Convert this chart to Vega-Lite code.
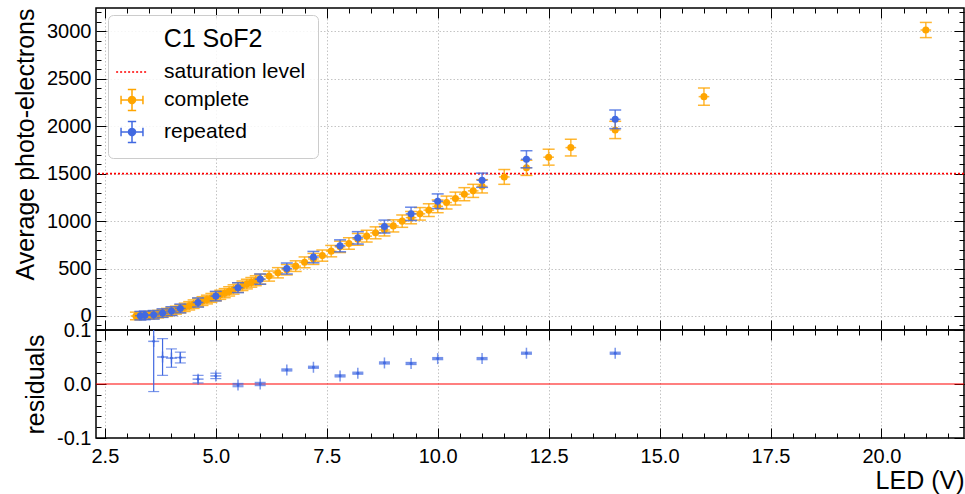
{
  "$schema": "https://vega.github.io/schema/vega-lite/v6.json",
  "background": "white",
  "padding": {"left": 12, "top": 6, "right": 2, "bottom": 0},
  "spacing": 0,
  "bounds": "flush",
  "config": {
    "view": {"stroke": "black", "strokeWidth": 1.5},
    "axis": {
      "labelFont": "Liberation Sans", "titleFont": "Liberation Sans",
      "labelFontSize": 20, "titleFontSize": 25, "titleFontWeight": "normal",
      "labelColor": "black", "titleColor": "black", "tickColor": "black",
      "tickWidth": 1, "domain": false, "grid": false,
      "gridColor": "#c4c4c4", "gridDash": [1.5, 2], "gridWidth": 1
    }
  },
  "datasets": {
    "main": [
      {"s": "complete", "led": 3.2, "pe": 0, "err": 40, "xerr": 0.12},
      {"s": "complete", "led": 3.3, "pe": 2, "err": 40, "xerr": 0.12},
      {"s": "complete", "led": 3.4, "pe": 5, "err": 40, "xerr": 0.12},
      {"s": "complete", "led": 3.5, "pe": 8, "err": 40, "xerr": 0.12},
      {"s": "complete", "led": 3.6, "pe": 11, "err": 40, "xerr": 0.12},
      {"s": "complete", "led": 3.7, "pe": 19, "err": 40, "xerr": 0.12},
      {"s": "complete", "led": 3.8, "pe": 28, "err": 40, "xerr": 0.12},
      {"s": "complete", "led": 3.9, "pe": 38, "err": 42, "xerr": 0.12},
      {"s": "complete", "led": 4.0, "pe": 48, "err": 42, "xerr": 0.12},
      {"s": "complete", "led": 4.1, "pe": 61, "err": 42, "xerr": 0.12},
      {"s": "complete", "led": 4.2, "pe": 75, "err": 43, "xerr": 0.12},
      {"s": "complete", "led": 4.3, "pe": 91, "err": 44, "xerr": 0.12},
      {"s": "complete", "led": 4.4, "pe": 107, "err": 44, "xerr": 0.12},
      {"s": "complete", "led": 4.5, "pe": 124, "err": 45, "xerr": 0.12},
      {"s": "complete", "led": 4.6, "pe": 141, "err": 45, "xerr": 0.12},
      {"s": "complete", "led": 4.7, "pe": 157, "err": 46, "xerr": 0.12},
      {"s": "complete", "led": 4.8, "pe": 173, "err": 46, "xerr": 0.12},
      {"s": "complete", "led": 4.9, "pe": 190, "err": 47, "xerr": 0.12},
      {"s": "complete", "led": 5.0, "pe": 206, "err": 47, "xerr": 0.12},
      {"s": "complete", "led": 5.1, "pe": 223, "err": 48, "xerr": 0.12},
      {"s": "complete", "led": 5.2, "pe": 240, "err": 48, "xerr": 0.12},
      {"s": "complete", "led": 5.3, "pe": 259, "err": 49, "xerr": 0.12},
      {"s": "complete", "led": 5.4, "pe": 279, "err": 49, "xerr": 0.12},
      {"s": "complete", "led": 5.5, "pe": 299, "err": 50, "xerr": 0.12},
      {"s": "complete", "led": 5.6, "pe": 318, "err": 50, "xerr": 0.12},
      {"s": "complete", "led": 5.7, "pe": 336, "err": 51, "xerr": 0.12},
      {"s": "complete", "led": 5.8, "pe": 354, "err": 51, "xerr": 0.12},
      {"s": "complete", "led": 5.9, "pe": 371, "err": 52, "xerr": 0.12},
      {"s": "complete", "led": 6.0, "pe": 388, "err": 52, "xerr": 0.12},
      {"s": "complete", "led": 6.2, "pe": 420, "err": 53, "xerr": 0.12},
      {"s": "complete", "led": 6.4, "pe": 455, "err": 54, "xerr": 0.12},
      {"s": "complete", "led": 6.6, "pe": 487, "err": 55, "xerr": 0.12},
      {"s": "complete", "led": 6.8, "pe": 525, "err": 56, "xerr": 0.12},
      {"s": "complete", "led": 7.0, "pe": 565, "err": 57, "xerr": 0.12},
      {"s": "complete", "led": 7.2, "pe": 601, "err": 58, "xerr": 0.12},
      {"s": "complete", "led": 7.4, "pe": 636, "err": 59, "xerr": 0.12},
      {"s": "complete", "led": 7.6, "pe": 683, "err": 60, "xerr": 0.12},
      {"s": "complete", "led": 7.8, "pe": 728, "err": 60, "xerr": 0.12},
      {"s": "complete", "led": 8.0, "pe": 763, "err": 61, "xerr": 0.12},
      {"s": "complete", "led": 8.2, "pe": 807, "err": 62, "xerr": 0.12},
      {"s": "complete", "led": 8.4, "pe": 841, "err": 62, "xerr": 0.12},
      {"s": "complete", "led": 8.6, "pe": 876, "err": 63, "xerr": 0.12},
      {"s": "complete", "led": 8.8, "pe": 906, "err": 63, "xerr": 0.12},
      {"s": "complete", "led": 9.0, "pe": 949, "err": 64, "xerr": 0.12},
      {"s": "complete", "led": 9.2, "pe": 999, "err": 65, "xerr": 0.12},
      {"s": "complete", "led": 9.4, "pe": 1036, "err": 65, "xerr": 0.12},
      {"s": "complete", "led": 9.6, "pe": 1076, "err": 66, "xerr": 0.12},
      {"s": "complete", "led": 9.8, "pe": 1115, "err": 67, "xerr": 0.12},
      {"s": "complete", "led": 10.0, "pe": 1155, "err": 67, "xerr": 0.12},
      {"s": "complete", "led": 10.2, "pe": 1195, "err": 68, "xerr": 0.12},
      {"s": "complete", "led": 10.4, "pe": 1237, "err": 68, "xerr": 0.12},
      {"s": "complete", "led": 10.6, "pe": 1283, "err": 69, "xerr": 0.12},
      {"s": "complete", "led": 10.8, "pe": 1318, "err": 69, "xerr": 0.12},
      {"s": "complete", "led": 11.0, "pe": 1366, "err": 70, "xerr": 0.12},
      {"s": "complete", "led": 11.5, "pe": 1465, "err": 78, "xerr": 0.12},
      {"s": "complete", "led": 12.0, "pe": 1561, "err": 80, "xerr": 0.12},
      {"s": "complete", "led": 12.5, "pe": 1673, "err": 84, "xerr": 0.12},
      {"s": "complete", "led": 13.0, "pe": 1774, "err": 88, "xerr": 0.12},
      {"s": "complete", "led": 14.0, "pe": 1960, "err": 91, "xerr": 0.12},
      {"s": "complete", "led": 16.0, "pe": 2311, "err": 91, "xerr": 0.12},
      {"s": "complete", "led": 21.0, "pe": 3013, "err": 80, "xerr": 0.12},
      {"s": "repeated", "led": 3.3, "pe": 3, "err": 45, "xerr": 0.12},
      {"s": "repeated", "led": 3.4, "pe": 6, "err": 45, "xerr": 0.12},
      {"s": "repeated", "led": 3.6, "pe": 12, "err": 45, "xerr": 0.12},
      {"s": "repeated", "led": 3.8, "pe": 30, "err": 45, "xerr": 0.12},
      {"s": "repeated", "led": 4.0, "pe": 51, "err": 46, "xerr": 0.12},
      {"s": "repeated", "led": 4.2, "pe": 79, "err": 46, "xerr": 0.12},
      {"s": "repeated", "led": 4.6, "pe": 142, "err": 48, "xerr": 0.12},
      {"s": "repeated", "led": 5.0, "pe": 209, "err": 50, "xerr": 0.12},
      {"s": "repeated", "led": 5.5, "pe": 298, "err": 52, "xerr": 0.12},
      {"s": "repeated", "led": 6.0, "pe": 388, "err": 54, "xerr": 0.12},
      {"s": "repeated", "led": 6.6, "pe": 500, "err": 58, "xerr": 0.12},
      {"s": "repeated", "led": 7.2, "pe": 620, "err": 60, "xerr": 0.12},
      {"s": "repeated", "led": 7.8, "pe": 739, "err": 63, "xerr": 0.12},
      {"s": "repeated", "led": 8.2, "pe": 823, "err": 65, "xerr": 0.12},
      {"s": "repeated", "led": 8.8, "pe": 942, "err": 68, "xerr": 0.12},
      {"s": "repeated", "led": 9.4, "pe": 1076, "err": 70, "xerr": 0.12},
      {"s": "repeated", "led": 10.0, "pe": 1209, "err": 77, "xerr": 0.12},
      {"s": "repeated", "led": 11.0, "pe": 1430, "err": 75, "xerr": 0.12},
      {"s": "repeated", "led": 12.0, "pe": 1651, "err": 90, "xerr": 0.12},
      {"s": "repeated", "led": 14.0, "pe": 2072, "err": 98, "xerr": 0.12}
    ],
    "res": [
      {"led": 3.6, "res": 0.079, "err": 0.093},
      {"led": 3.8, "res": 0.050, "err": 0.034},
      {"led": 4.0, "res": 0.048, "err": 0.017},
      {"led": 4.2, "res": 0.049, "err": 0.010},
      {"led": 4.6, "res": 0.009, "err": 0.007},
      {"led": 5.0, "res": 0.015, "err": 0.005},
      {"led": 5.5, "res": -0.002, "err": 0.003},
      {"led": 6.0, "res": 0.000, "err": 0.003},
      {"led": 6.6, "res": 0.026, "err": 0.002},
      {"led": 7.2, "res": 0.031, "err": 0.002},
      {"led": 7.8, "res": 0.015, "err": 0.002},
      {"led": 8.2, "res": 0.020, "err": 0.002},
      {"led": 8.8, "res": 0.039, "err": 0.002},
      {"led": 9.4, "res": 0.038, "err": 0.002},
      {"led": 10.0, "res": 0.047, "err": 0.002},
      {"led": 11.0, "res": 0.047, "err": 0.002},
      {"led": 12.0, "res": 0.057, "err": 0.002},
      {"led": 14.0, "res": 0.057, "err": 0.002}
    ]
  },
  "resolve": {"scale": {"color": "independent"}, "legend": {"color": "independent"}},
  "vconcat": [
    {
      "width": 868,
      "height": 322,
      "resolve": {"axis": {"x": "independent", "y": "independent"}},
      "layer": [
        {
          "data": {"values": [{}]},
          "mark": {"type": "rule", "color": "#ff0000", "strokeDash": [2, 2], "strokeWidth": 1.6},
          "encoding": {
            "y": {"datum": 1500, "type": "quantitative", "scale": {"domain": [-148, 3245], "nice": false, "zero": false}, "axis": null}
          }
        },
        {
          "data": {"name": "main"},
          "transform": [{"filter": "datum.s === 'complete'"}],
          "mark": {"type": "errorbar", "ticks": {"size": 12}, "thickness": 1.5, "color": "orange", "opacity": 0.8},
          "encoding": {
            "x": {"field": "led", "type": "quantitative", "scale": {"domain": [2.3, 21.86], "nice": false, "zero": false},
                  "axis": {"orient": "bottom", "values": [2.5, 5, 7.5, 10, 12.5, 15, 17.5, 20], "labels": false, "tickSize": -10, "grid": true, "title": null}},
            "y": {"field": "pe", "type": "quantitative", "scale": {"domain": [-148, 3245], "nice": false, "zero": false},
                  "axis": {"orient": "left", "values": [0, 500, 1000, 1500, 2000, 2500, 3000], "format": "d", "tickSize": -10, "labelPadding": 15, "grid": true,
                           "title": "Average photo-electrons", "titleAnchor": "end", "titlePadding": 8}},
            "yError": {"field": "err"}
          }
        },
        {
          "data": {"name": "main"},
          "transform": [{"filter": "datum.s === 'complete'"}],
          "mark": {"type": "errorbar", "ticks": false, "thickness": 1.5, "color": "orange", "opacity": 0.8},
          "encoding": {
            "x": {"field": "led", "type": "quantitative", "scale": {"domain": [2.3, 21.86], "nice": false, "zero": false},
                  "axis": {"orient": "bottom", "values": [2.5,3,3.5,4,4.5,5,5.5,6,6.5,7,7.5,8,8.5,9,9.5,10,10.5,11,11.5,12,12.5,13,13.5,14,14.5,15,15.5,16,16.5,17,17.5,18,18.5,19,19.5,20,20.5,21,21.5], "labels": false, "tickSize": -5, "grid": false, "title": null}},
            "y": {"field": "pe", "type": "quantitative", "scale": {"domain": [-148, 3245], "nice": false, "zero": false},
                  "axis": {"orient": "left", "values": [-100,0,100,200,300,400,500,600,700,800,900,1000,1100,1200,1300,1400,1500,1600,1700,1800,1900,2000,2100,2200,2300,2400,2500,2600,2700,2800,2900,3000,3100,3200], "labels": false, "tickSize": -5, "grid": false, "title": null}},
            "xError": {"field": "xerr"}
          }
        },
        {
          "data": {"name": "main"},
          "transform": [{"filter": "datum.s === 'complete'"}],
          "mark": {"type": "point", "filled": true, "size": 50, "opacity": 1},
          "encoding": {
            "x": {"field": "led", "type": "quantitative", "scale": {"domain": [2.3, 21.86], "nice": false, "zero": false},
                  "axis": {"orient": "top", "values": [2.5, 5, 7.5, 10, 12.5, 15, 17.5, 20], "labels": false, "tickSize": -10, "grid": false, "title": null}},
            "y": {"field": "pe", "type": "quantitative", "scale": {"domain": [-148, 3245], "nice": false, "zero": false},
                  "axis": {"orient": "right", "values": [0, 500, 1000, 1500, 2000, 2500, 3000], "labels": false, "tickSize": -10, "grid": false, "title": null}},
            "color": {
              "field": "s", "type": "nominal",
              "scale": {"domain": ["saturation level", "complete", "repeated"], "range": ["red", "orange", "royalblue"]},
              "legend": {
                "title": "C1 SoF2", "orient": "none", "legendX": 12, "legendY": 7, "padding": 12,
                "fillColor": "rgba(255,255,255,0.85)", "strokeColor": "#cccccc", "cornerRadius": 5,
                "titleFont": "Liberation Sans", "titleFontSize": 25, "titleFontWeight": "normal", "titleColor": "black",
                "titleAnchor": "middle", "titleAlign": "center", "titlePadding": 8,
                "labelFont": "Liberation Sans", "labelFontSize": 21, "labelColor": "black", "labelOffset": 20,
                "symbolSize": 480, "rowPadding": 4,
                "encoding": {
                  "symbols": {
                    "shape": {"value": {"signal": "datum.value === 'saturation level' ? 'M-1.45,0L1.45,0' : 'M-1,0L1,0M0,-0.95L0,0.95M-0.38,-0.95L0.38,-0.95M-0.38,0.95L0.38,0.95M-1,-0.38L-1,0.38M1,-0.38L1,0.38M0.32,0A0.32,0.32 0 1,1 -0.32,0A0.32,0.32 0 1,1 0.32,0Z'"}},
                    "stroke": {"value": {"signal": "datum.value === 'saturation level' ? '#ff0000' : datum.value === 'complete' ? 'orange' : 'royalblue'"}},
                    "fill": {"value": {"signal": "datum.value === 'complete' ? 'orange' : datum.value === 'repeated' ? 'royalblue' : 'transparent'"}},
                    "strokeWidth": {"value": 1.5},
                    "strokeDash": {"value": {"signal": "datum.value === 'saturation level' ? [2, 2] : [1, 0]"}},
                    "size": {"value": 480},
                    "opacity": {"value": 1}
                  }
                }
              }
            }
          }
        },
        {
          "data": {"name": "main"},
          "transform": [{"filter": "datum.s === 'repeated'"}],
          "mark": {"type": "errorbar", "ticks": {"size": 12}, "thickness": 1.5, "color": "royalblue", "opacity": 0.8},
          "encoding": {
            "x": {"field": "led", "type": "quantitative", "scale": {"domain": [2.3, 21.86], "nice": false, "zero": false},
                  "axis": {"orient": "top", "values": [2.5,3,3.5,4,4.5,5,5.5,6,6.5,7,7.5,8,8.5,9,9.5,10,10.5,11,11.5,12,12.5,13,13.5,14,14.5,15,15.5,16,16.5,17,17.5,18,18.5,19,19.5,20,20.5,21,21.5], "labels": false, "tickSize": -5, "grid": false, "title": null}},
            "y": {"field": "pe", "type": "quantitative", "scale": {"domain": [-148, 3245], "nice": false, "zero": false},
                  "axis": {"orient": "right", "values": [-100,0,100,200,300,400,500,600,700,800,900,1000,1100,1200,1300,1400,1500,1600,1700,1800,1900,2000,2100,2200,2300,2400,2500,2600,2700,2800,2900,3000,3100,3200], "labels": false, "tickSize": -5, "grid": false, "title": null}},
            "yError": {"field": "err"}
          }
        },
        {
          "data": {"name": "main"},
          "transform": [{"filter": "datum.s === 'repeated'"}],
          "mark": {"type": "errorbar", "ticks": false, "thickness": 1.5, "color": "royalblue", "opacity": 0.8},
          "encoding": {
            "x": {"field": "led", "type": "quantitative", "scale": {"domain": [2.3, 21.86], "nice": false, "zero": false}, "axis": null},
            "y": {"field": "pe", "type": "quantitative", "scale": {"domain": [-148, 3245], "nice": false, "zero": false}, "axis": null},
            "xError": {"field": "xerr"}
          }
        },
        {
          "data": {"name": "main"},
          "transform": [{"filter": "datum.s === 'repeated'"}],
          "mark": {"type": "point", "filled": true, "size": 50, "opacity": 1},
          "encoding": {
            "x": {"field": "led", "type": "quantitative", "scale": {"domain": [2.3, 21.86], "nice": false, "zero": false}, "axis": null},
            "y": {"field": "pe", "type": "quantitative", "scale": {"domain": [-148, 3245], "nice": false, "zero": false}, "axis": null},
            "color": {
              "field": "s", "type": "nominal",
              "scale": {"domain": ["saturation level", "complete", "repeated"], "range": ["red", "orange", "royalblue"]},
              "legend": null
            }
          }
        }
      ]
    },
    {
      "width": 868,
      "height": 108,
      "resolve": {"axis": {"x": "independent", "y": "independent"}},
      "layer": [
        {
          "data": {"values": [{}]},
          "mark": {"type": "rule", "color": "red", "strokeWidth": 1.2},
          "encoding": {
            "y": {"datum": 0, "type": "quantitative", "scale": {"domain": [-0.1, 0.1], "nice": false, "zero": false}, "axis": null}
          }
        },
        {
          "data": {"name": "res"},
          "mark": {"type": "errorbar", "ticks": {"size": 11}, "thickness": 1.2, "color": "royalblue", "clip": true},
          "encoding": {
            "x": {"field": "led", "type": "quantitative", "scale": {"domain": [2.3, 21.86], "nice": false, "zero": false},
                  "axis": {"orient": "bottom", "values": [2.5, 5, 7.5, 10, 12.5, 15, 17.5, 20], "format": ".1f", "tickSize": -10, "labelPadding": 18, "grid": true,
                           "title": "LED (V)", "titleAnchor": "end", "titlePadding": 2}},
            "y": {"field": "res", "type": "quantitative", "scale": {"domain": [-0.1, 0.1], "nice": false, "zero": false},
                  "axis": {"orient": "left", "values": [-0.1, 0, 0.1], "labelExpr": "datum.value < 0 ? '-' + format(-datum.value, '.1f') : format(datum.value, '.1f')",
                           "tickSize": -10, "labelPadding": 15, "grid": false, "title": "residuals", "titlePadding": 8}},
            "yError": {"field": "err"}
          }
        },
        {
          "data": {"name": "res"},
          "mark": {"type": "tick", "orient": "vertical", "size": 11, "thickness": 1.5, "color": "royalblue"},
          "encoding": {
            "x": {"field": "led", "type": "quantitative", "scale": {"domain": [2.3, 21.86], "nice": false, "zero": false},
                  "axis": {"orient": "bottom", "values": [2.5,3,3.5,4,4.5,5,5.5,6,6.5,7,7.5,8,8.5,9,9.5,10,10.5,11,11.5,12,12.5,13,13.5,14,14.5,15,15.5,16,16.5,17,17.5,18,18.5,19,19.5,20,20.5,21,21.5], "labels": false, "tickSize": -5, "grid": false, "title": null}},
            "y": {"field": "res", "type": "quantitative", "scale": {"domain": [-0.1, 0.1], "nice": false, "zero": false},
                  "axis": {"orient": "left", "values": [-0.1,-0.08,-0.06,-0.04,-0.02,0,0.02,0.04,0.06,0.08,0.1], "labels": false, "tickSize": -5, "grid": false, "title": null}}
          }
        },
        {
          "data": {"name": "res"},
          "mark": {"type": "tick", "orient": "horizontal", "size": 11, "thickness": 1.5, "color": "royalblue"},
          "encoding": {
            "x": {"field": "led", "type": "quantitative", "scale": {"domain": [2.3, 21.86], "nice": false, "zero": false},
                  "axis": {"orient": "top", "values": [2.5, 5, 7.5, 10, 12.5, 15, 17.5, 20], "labels": false, "tickSize": -10, "grid": false, "title": null}},
            "y": {"field": "res", "type": "quantitative", "scale": {"domain": [-0.1, 0.1], "nice": false, "zero": false},
                  "axis": {"orient": "right", "values": [-0.1, 0, 0.1], "labels": false, "tickSize": -10, "grid": false, "title": null}}
          }
        },
        {
          "data": {"name": "res"},
          "mark": {"type": "point", "filled": true, "size": 8, "color": "royalblue", "opacity": 1},
          "encoding": {
            "x": {"field": "led", "type": "quantitative", "scale": {"domain": [2.3, 21.86], "nice": false, "zero": false},
                  "axis": {"orient": "top", "values": [2.5,3,3.5,4,4.5,5,5.5,6,6.5,7,7.5,8,8.5,9,9.5,10,10.5,11,11.5,12,12.5,13,13.5,14,14.5,15,15.5,16,16.5,17,17.5,18,18.5,19,19.5,20,20.5,21,21.5], "labels": false, "tickSize": -5, "grid": false, "title": null}},
            "y": {"field": "res", "type": "quantitative", "scale": {"domain": [-0.1, 0.1], "nice": false, "zero": false},
                  "axis": {"orient": "right", "values": [-0.1,-0.08,-0.06,-0.04,-0.02,0,0.02,0.04,0.06,0.08,0.1], "labels": false, "tickSize": -5, "grid": false, "title": null}}
          }
        }
      ]
    }
  ]
}
